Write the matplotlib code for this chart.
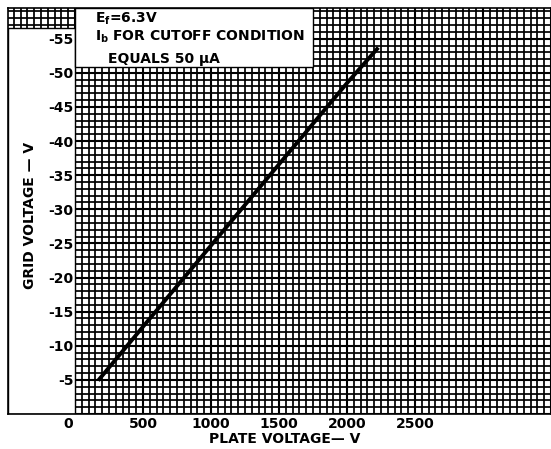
import matplotlib
matplotlib.use("Agg")
import matplotlib.pyplot as plt
from matplotlib.patches import Rectangle
from matplotlib.ticker import MultipleLocator, FuncFormatter

plt.rcParams['font.family'] = ['DejaVu Sans']
plt.rcParams['font.weight'] = 'bold'
plt.rcParams['axes.unicode_minus'] = False

# cutoff curve read from the sheet
plate_v = [170, 500, 1000, 1500, 2000, 2230]
grid_v = [-4.9, -12.8, -24.7, -36.6, -48.5, -53.7]

x_labels = [500, 1000, 1500, 2000, 2500]
y_labels = [-5, -10, -15, -20, -25, -30, -35, -40, -45, -50, -55]

fig = plt.figure(figsize=(5.51, 4.49), dpi=100)
rect = [8/551, 35/449, 543/551, 406/449]

# back axes: the graph paper
ax = fig.add_axes(rect)
ax.set_xlim(-493, 3500)
ax.set_ylim(0, -59.5)
ax.xaxis.set_major_locator(MultipleLocator(500))
ax.xaxis.set_minor_locator(MultipleLocator(50))
ax.yaxis.set_major_locator(MultipleLocator(5))
ax.yaxis.set_minor_locator(MultipleLocator(1))
ax.grid(which='major', color='black', lw=1.5)
ax.grid(which='minor', color='black', lw=1.25)
ax.tick_params(which='both', length=0, labelbottom=False, labelleft=False)

# blank areas on the sheet
ax.add_patch(Rectangle((-493, 0), 493, -56.5, facecolor='white',
                       edgecolor='black', lw=1, zorder=2))
ax.add_patch(Rectangle((0, -50.8), 1750, -8.7, facecolor='white',
                       edgecolor='black', lw=1, zorder=2))
for s in ax.spines.values():
    s.set_linewidth(1.2)

# front axes: curve and labels
ax2 = fig.add_axes(rect, sharex=ax, sharey=ax)
ax2.patch.set_visible(False)
for s in ax2.spines.values():
    s.set_visible(False)
ax2.plot(plate_v, grid_v, color='black', lw=2.8, solid_capstyle='butt')

ax2.xaxis.set_major_formatter(FuncFormatter(
    lambda v, p: f"{v:.0f}" if round(v) in x_labels else ""))
ax2.yaxis.set_major_formatter(FuncFormatter(
    lambda v, p: f"{v:.0f}" if round(v) in y_labels else ""))
ax2.tick_params(which='both', length=0)
ax2.tick_params(axis='x', pad=2, labelsize=10)
ax2.tick_params(axis='y', pad=-47, labelsize=10)

ax2.annotate("0", xy=(-50, 0), xycoords=ax2.get_xaxis_transform(),
             xytext=(0, -2), textcoords='offset points',
             ha='center', va='top', fontsize=10, fontweight='bold')

ax2.set_xlabel("PLATE VOLTAGE— V", fontsize=10, fontweight='bold')
ax2.xaxis.set_label_coords((285 - 8) / 543, -0.045)
ax2.set_ylabel("GRID VOLTAGE — V", fontsize=10, fontweight='bold')
ax2.yaxis.set_label_coords(29 / 543, 0.49)

fig.text(95/551, 1 - 19/449, r"E$_\mathbf{f}$=6.3V", fontsize=10,
         fontweight='bold', va='center')
fig.text(95/551, 1 - 37/449, r"I$_\mathbf{b}$ FOR CUTOFF CONDITION", fontsize=10,
         fontweight='bold', va='center')
fig.text(108/551, 1 - 59/449, "EQUALS 50 µA", fontsize=10,
         fontweight='bold', va='center')

fig.savefig("out.png", dpi=100, facecolor='white')
